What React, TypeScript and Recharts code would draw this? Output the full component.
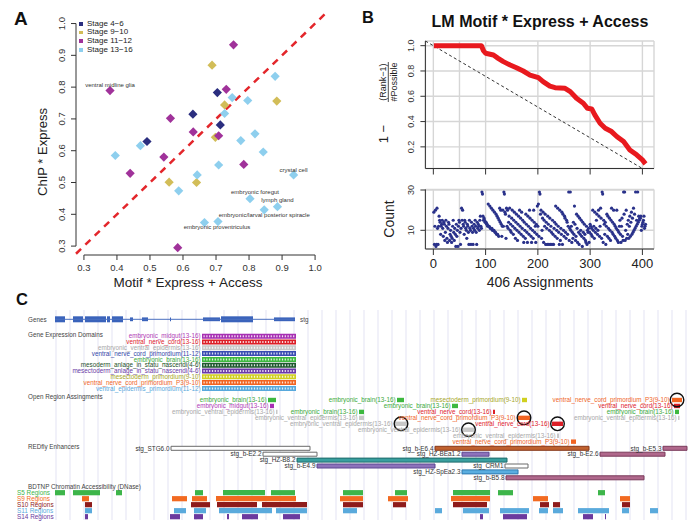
import React from 'react';
import {
  ScatterChart,
  Scatter,
  LineChart,
  Line,
  XAxis,
  YAxis,
  CartesianGrid,
  ReferenceLine,
  ReferenceArea,
  ReferenceDot,
  Legend,
} from 'recharts';

const FONT = '"Liberation Sans", Arial, Helvetica, sans-serif';

// ---------- Panel A: ChIP * Express vs Motif * Express + Access ----------
const STAGE_NAMES = ['Stage 4−6', 'Stage 9−10', 'Stage 11−12', 'Stage 13−16'];
const STAGE_4_6 = [[0.63, 0.715], [0.491, 0.629], [0.704, 0.783], [0.713, 0.681]];
const STAGE_9_10 = [[0.558, 0.501], [0.641, 0.5], [0.688, 0.869], [0.884, 0.756], [0.726, 0.744], [0.698, 0.642]];
const STAGE_11_12 = [
  [0.379, 0.789], [0.562, 0.702], [0.631, 0.659], [0.542, 0.58], [0.44, 0.529],
  [0.584, 0.295], [0.753, 0.933], [0.731, 0.793], [0.708, 0.647], [0.784, 0.557],
];
const STAGE_13_16 = [
  [0.471, 0.616], [0.395, 0.585], [0.643, 0.524], [0.587, 0.474], [0.879, 0.834],
  [0.749, 0.767], [0.796, 0.758], [0.726, 0.717], [0.818, 0.653], [0.775, 0.632],
  [0.843, 0.596], [0.708, 0.555], [0.935, 0.524], [0.803, 0.449], [0.886, 0.424],
  [0.846, 0.414], [0.706, 0.377], [0.665, 0.374],
];
const POINT_LABELS = [
  { name: 'ventral midline glia', x: 0.379, y: 0.789 },
  { name: 'crystal cell', x: 0.935, y: 0.524 },
  { name: 'embryonic foregut', x: 0.803, y: 0.449 },
  { name: 'lymph gland', x: 0.886, y: 0.424 },
  { name: 'embryonic/larval posterior spiracle', x: 0.846, y: 0.414 },
  { name: 'embryonic proventriculus', x: 0.706, y: 0.377 },
];
const A_TICKS = [0.3, 0.4, 0.5, 0.6, 0.7, 0.8, 0.9, 1.0];

// ---------- Panel B: rank curve and counts ----------
const RANK_X = [1, 92, 96, 100, 115, 124, 134, 147, 159, 172, 185, 201, 210, 223, 233, 252, 262, 274, 287, 295, 303, 309, 319, 329, 341, 351, 364, 376, 389, 400, 406];
const RANK_Y = [1.0, 1.0, 0.96, 0.94, 0.926, 0.9, 0.874, 0.847, 0.826, 0.8, 0.768, 0.747, 0.716, 0.68, 0.668, 0.663, 0.637, 0.584, 0.545, 0.505, 0.5, 0.453, 0.387, 0.347, 0.321, 0.282, 0.242, 0.176, 0.137, 0.097, 0.066];
const RANK_TICKS = [0.2, 0.4, 0.6, 0.8, 1.0];
const ASSIGN_TICKS = [0, 100, 200, 300, 400];
const COUNT_TICKS = [10, 20, 30];
const COUNTS = [
  19, 3, 12, 20, 2, 3, 21, 11, 3, 12, 17, 15, 14, 8, 12, 13, 15, 11, 7, 14,
  13, 5, 9, 15, 12, 6, 4, 11, 14, 13, 5, 8, 10, 7, 4, 6, 12, 15, 9, 5,
  11, 8, 2, 13, 7, 10, 2, 12, 15, 14, 9, 3, 11, 21, 15, 20, 13, 12, 8, 15,
  14, 11, 10, 6, 13, 12, 9, 3, 15, 11, 10, 3, 14, 12, 9, 3, 11, 13, 10, 15,
  12, 9, 3, 14, 11, 13, 12, 10, 15, 17, 12, 11, 29, 28, 17, 15, 16, 15, 14, 14,
  14, 13, 13, 12, 23, 12, 12, 22, 11, 11, 21, 11, 10, 20, 10, 10, 19, 9, 9, 18,
  8, 17, 8, 16, 7, 15, 21, 14, 20, 13, 7, 12, 20, 12, 29, 28, 19, 18, 6, 21,
  12, 20, 11, 14, 17, 21, 10, 13, 9, 16, 20, 12, 8, 15, 19, 11, 6, 14, 18, 10,
  5, 13, 17, 9, 20, 12, 16, 8, 19, 11, 15, 7, 4, 14, 10, 6, 18, 13, 9, 4,
  17, 12, 8, 20, 16, 11, 7, 4, 15, 10, 6, 20, 14, 9, 12, 4, 13, 8, 22, 12,
  23, 7, 29, 28, 18, 20, 6, 10, 16, 19, 4, 15, 12, 18, 3, 14, 11, 3, 17, 13,
  3, 10, 16, 3, 12, 9, 3, 15, 8, 3, 11, 14, 7, 22, 13, 10, 6, 21, 12, 9,
  3, 20, 5, 11, 8, 19, 3, 18, 10, 7, 17, 16, 9, 6, 15, 14, 8, 12, 29, 5,
  11, 29, 10, 12, 4, 9, 6, 14, 8, 22, 13, 5, 7, 18, 11, 4, 17, 9, 3, 16,
  8, 10, 15, 7, 2, 14, 9, 6, 13, 8, 5, 4, 12, 3, 10, 9, 11, 4, 9, 13,
  12, 8, 11, 7, 20, 10, 12, 6, 19, 9, 11, 15, 18, 8, 10, 20, 17, 7, 12, 21,
  16, 6, 29, 28, 4, 15, 13, 8, 14, 3, 12, 18, 7, 17, 11, 6, 16, 10, 5, 15,
  21, 9, 14, 8, 20, 13, 7, 12, 6, 11, 20, 5, 10, 4, 9, 12, 15, 8, 4, 12,
  16, 7, 5, 29, 18, 29, 5, 10, 20, 6, 13, 8, 15, 6, 12, 17, 7, 14, 19, 8,
  16, 9, 21, 10, 18, 11, 29, 12, 15, 13, 29, 14, 17, 15, 16, 16, 17, 10, 12, 13,
  14, 15, 17, 11, 12, 13,
];

// ---------- Panel C: stg locus browser (positions in locus units) ----------
const STG_SPAN = [0, 240];
const STG_EXONS = [
  [0, 10, 'cds'], [18, 28, 'cds'], [30, 51, 'cds'], [52, 55, 'cds'], [57, 68, 'cds'],
  [75, 78, 'utr'], [87, 93, 'utr'], [115, 116, 'utr'], [148, 165, 'utr'], [166, 198, 'cds'], [219, 240, 'utr'],
];
const EXPRESSION_SPAN = [147, 241];
const EXPRESSION_DOMAINS = [
  'embryonic_midgut(13-16)',
  'ventral_nerve_cord(13-16)',
  'embryonic_ventral_epidermis(13-16)',
  'ventral_nerve_cord_primordium(11-12)',
  'embryonic_brain(13-16)',
  'mesoderm_anlage_in_statu_nascendi(4-6)',
  'mesectoderm_anlage_in_statu_nascendi(4-6)',
  'mesectoderm_primordium(9-10)',
  'ventral_nerve_cord_primordium_P3(9-10)',
  'ventral_epidermis_primordium(11-12)',
];
const OPEN_REGIONS = [
  { tissue: 'embryonic_brain(13-16)', start: 213, end: 221, row: 0, circled: false },
  { tissue: 'embryonic_midgut(13-16)', start: 215, end: 219, row: 1, circled: false },
  { tissue: 'embryonic_ventral_epidermis(13-16)', start: 221, end: 222.5, row: 2, circled: false },
  { tissue: 'embryonic_brain(13-16)', start: 342, end: 349, row: 0, circled: false },
  { tissue: 'embryonic_brain(13-16)', start: 304, end: 309, row: 2, circled: false },
  { tissue: 'embryonic_ventral_epidermis(13-16)', start: 304, end: 309, row: 3, circled: false },
  { tissue: 'embryonic_ventral_epidermis(13-16)', start: 340, end: 352, row: 4, circled: true },
  { tissue: 'embryonic_brain(13-16)', start: 397, end: 403, row: 1, circled: false },
  { tissue: 'mesectoderm_primordium(9-10)', start: 467, end: 472, row: 0, circled: false },
  { tissue: 'ventral_nerve_cord_primordium_P3(9-10)', start: 617, end: 627, row: 0, circled: true },
  { tissue: 'ventral_nerve_cord(13-16)', start: 619, end: 625, row: 1, circled: false },
  { tissue: 'ventral_nerve_cord(13-16)', start: 438, end: 440, row: 2, circled: false },
  { tissue: 'embryonic_brain(13-16)', start: 620, end: 624, row: 2, circled: false },
  { tissue: 'ventral_nerve_cord_primordium_P3(9-10)', start: 463, end: 475, row: 3, circled: true },
  { tissue: 'embryonic_ventral_epidermis(13-16)', start: 623, end: 624.5, row: 3, circled: false },
  { tissue: 'ventral_nerve_cord(13-16)', start: 497, end: 508, row: 4, circled: true },
  { tissue: 'embryonic_ventral_epidermis(13-16)', start: 408, end: 419, row: 5, circled: true },
  { tissue: 'embryonic_ventral_epidermis(13-16)', start: 502, end: 504, row: 6, circled: false },
  { tissue: 'ventral_nerve_cord_primordium_P3(9-10)', start: 516, end: 521, row: 7, circled: false },
];
const REDFLY = [
  { name: 'stg_STG6.0', start: 116, end: 255, row: 0 },
  { name: 'stg_b-E2.2', start: 208, end: 262, row: 1 },
  { name: 'stg_HZ-B8.2', start: 242, end: 452, row: 2 },
  { name: 'stg_b-E4.9', start: 262, end: 380, row: 3 },
  { name: 'stg_b-E6.4', start: 380, end: 534, row: 0 },
  { name: 'stg_HZ-BEa1.2', start: 407, end: 434, row: 1 },
  { name: 'stg_b-E2.6', start: 545, end: 610, row: 1 },
  { name: 'stg_b-E5.3', start: 608, end: 632, row: 0 },
  { name: 'stg_CRM1', start: 450, end: 473, row: 3 },
  { name: 'stg_HZ-SpEa2.3', start: 407, end: 463, row: 4 },
  { name: 'stg_b-B5.8', start: 451, end: 589, row: 5 },
];
const DNASE_TRACKS = ['S5 Regions', 'S9 Regions', 'S10 Regions', 'S11 Regions', 'S14 Regions'];
const DNASE_S5 = [[0, 10], [18, 45], [61, 67], [140, 148], [168, 210], [216, 240], [288, 308], [340, 352], [398, 435], [443, 458], [543, 550]];
const DNASE_S9 = [[27, 34], [117, 132], [137, 152], [161, 241], [285, 308], [333, 353], [396, 435], [478, 493], [565, 575]];
const DNASE_S10 = [[30, 37], [136, 155], [162, 202], [207, 252], [288, 308], [338, 351], [398, 432], [485, 494], [498, 505], [567, 575]];
const DNASE_S11 = [[30, 37], [119, 131], [139, 151], [164, 217], [221, 252], [288, 302], [380, 387], [408, 434], [445, 474], [484, 493], [498, 508], [523, 554], [567, 574], [595, 603]];
const DNASE_S14 = [[30, 33], [115, 125], [139, 148], [172, 174], [187, 203], [228, 245], [425, 428], [448, 472], [528, 538], [550, 551]];

// ---------- styles ----------
const STAGE_COLORS = ['#2b2e7f', '#d2bd58', '#a0329a', '#8ecfee'];
const TISSUE_COLOR: Record<string, [string, string]> = {
  'embryonic_midgut(13-16)': ['#b03bb5', '#a72fb3'],
  'ventral_nerve_cord(13-16)': ['#e0222b', '#dc1f27'],
  'embryonic_ventral_epidermis(13-16)': ['#a8a8a8', '#c8c8c8'],
  'ventral_nerve_cord_primordium(11-12)': ['#3347a8', '#3a4cb2'],
  'embryonic_brain(13-16)': ['#3aaa3a', '#3db83f'],
  'mesoderm_anlage_in_statu_nascendi(4-6)': ['#1d4f2a', '#1f5a30'],
  'mesectoderm_anlage_in_statu_nascendi(4-6)': ['#6a3aa6', '#6c3aaa'],
  'mesectoderm_primordium(9-10)': ['#a6a61e', '#d0d020'],
  'ventral_nerve_cord_primordium_P3(9-10)': ['#f06628', '#f26421'],
  'ventral_epidermis_primordium(11-12)': ['#5aa9dc', '#58a9dc'],
};
const ENH_STYLE: Record<string, [string, string]> = {
  'stg_STG6.0': ['#ffffff', '#6a6a6a'],
  'stg_b-E2.2': ['#ffffff', '#6a6a6a'],
  'stg_HZ-B8.2': ['#3a9f9f', '#1e6a6a'],
  'stg_b-E4.9': ['#8d72bb', '#5d4690'],
  'stg_b-E6.4': ['#c0612f', '#86391a'],
  'stg_HZ-BEa1.2': ['#8d72bb', '#5d4690'],
  'stg_b-E2.6': ['#b0688c', '#7a3a5a'],
  'stg_b-E5.3': ['#b0688c', '#7a3a5a'],
  'stg_CRM1': ['#ffffff', '#6a6a6a'],
  'stg_HZ-SpEa2.3': ['#5aaee0', '#2f7ab0'],
  'stg_b-B5.8': ['#b0688c', '#7a3a5a'],
};
const DNASE_COLORS = ['#3db54a', '#f26a21', '#8e1b1b', '#5aaadc', '#6b3a9e'];
const LANE = {
  gene: 21.3, exprTop: 38.2, exprStep: 5.8, openTop: 102, openStep: 5.95,
  redTop: 150.3, redStep: 5.9, dnaseTop: 194.7, dnaseStep: 6,
};
const LABEL_OFFSET: Record<string, [number, number]> = {
  'ventral midline glia': [0, -4],
  'crystal cell': [0, -3],
  'embryonic foregut': [5, -5],
  'lymph gland': [0, -4.7],
  'embryonic/larval posterior spiracle': [0, 7],
  'embryonic proventriculus': [-1, 7.5],
};

const diamond = (color: string) => (p: any) => {
  const { cx, cy } = p;
  if (cx == null || cy == null) return <g />;
  const r = 4.6;
  return <polygon points={`${cx},${cy - r} ${cx + r},${cy} ${cx},${cy + r} ${cx - r},${cy}`} fill={color} />;
};

const pointLabel = (p: any) => {
  const d = p.payload;
  const [dx, dy] = LABEL_OFFSET[d.name] || [0, 0];
  return (
    <text x={p.cx + dx} y={p.cy + dy} textAnchor="middle" fontSize={6} fill="#333" fontFamily={FONT}>
      {d.name}
    </text>
  );
};

const RotTick = ({ x, y, payload, fs, digits }: any) => {
  const tx = x - 4.2;
  return (
    <text x={tx} y={y} transform={`rotate(-90 ${tx} ${y})`} textAnchor="middle" fontSize={fs} fill="#333" fontFamily={FONT}>
      {digits ? Number(payload.value).toFixed(digits) : payload.value}
    </text>
  );
};

const rotText = (cx: number, cy: number, fs: number, txt: string, key?: string) => {
  const tx = cx + 0.36 * fs;
  return (
    <text key={key} x={tx} y={cy} transform={`rotate(-90 ${tx} ${cy})`} textAnchor="middle" fontSize={fs} fill="#222" fontFamily={FONT}>
      {txt}
    </text>
  );
};

function PanelA() {
  const series = [STAGE_4_6, STAGE_9_10, STAGE_11_12, STAGE_13_16];
  return (
    <ScatterChart width={350} height={290} margin={{ top: 14, right: 25, bottom: 0, left: 0 }}>
      <XAxis
        type="number" dataKey="x" domain={[0.276, 1.03]} allowDataOverflow ticks={A_TICKS}
        tickFormatter={(v: number) => v.toFixed(1)} axisLine={false} tickLine={{ stroke: '#333' }}
        tickSize={5} tickMargin={4} height={35}
        tick={{ fontSize: 9.5, fill: '#333', fontFamily: FONT }}
        label={() => (
          <text x={188} y={287} textAnchor="middle" fontSize={13.5} fill="#222" fontFamily={FONT}>
            Motif * Express + Access
          </text>
        )}
      />
      <YAxis
        type="number" dataKey="y" domain={[0.272, 1.03]} allowDataOverflow ticks={A_TICKS}
        width={76} axisLine={false} tickLine={{ stroke: '#333' }} tickSize={5}
        tick={(p: any) => <RotTick {...p} fs={9.5} digits={1} />}
        label={() => rotText(42.5, 152, 13, 'ChIP * Express')}
      />
      <ReferenceLine segment={[{ x: 0.276, y: 0.3 }, { x: 0.276, y: 1.0 }]} stroke="#333" ifOverflow="visible" />
      <ReferenceLine segment={[{ x: 0.3, y: 0.272 }, { x: 1.0, y: 0.272 }]} stroke="#333" ifOverflow="visible" />
      <ReferenceLine
        segment={[{ x: 0.276, y: 0.276 }, { x: 1.03, y: 1.03 }]}
        stroke="#e3262b" strokeWidth={2.5} strokeDasharray="7 6" ifOverflow="visible"
      />
      {series.map((s, i) => (
        <Scatter
          key={STAGE_NAMES[i]} name={STAGE_NAMES[i]} data={s.map(([x, y]) => ({ x, y }))}
          fill={STAGE_COLORS[i]} shape={diamond(STAGE_COLORS[i])} isAnimationActive={false}
        />
      ))}
      <Scatter data={POINT_LABELS} shape={pointLabel} isAnimationActive={false} legendType="none" />
      <Legend
        layout="horizontal" verticalAlign="middle" align="center"
        wrapperStyle={{ left: 79, top: 19.5, width: 90, height: 36 }}
        content={() => (
          <div style={{ fontFamily: FONT, fontSize: 8, color: '#222', lineHeight: '8.7px' }}>
            {STAGE_NAMES.map((s, i) => (
              <div key={s} style={{ display: 'flex', alignItems: 'center', height: 8.7 }}>
                <span style={{ display: 'inline-block', width: 3.5, height: 3.5, background: STAGE_COLORS[i], marginRight: 4.5 }} />
                {s}
              </div>
            ))}
          </div>
        )}
      />
    </ScatterChart>
  );
}

function PanelBRank() {
  const data = RANK_X.map((x, i) => ({ x, v: RANK_Y[i] }));
  return (
    <LineChart width={347} height={180} data={data} margin={{ top: 41, right: 43, bottom: 0, left: 0 }}>
      <XAxis xAxisId="grid" type="number" dataKey="x" domain={[-15.2, 422.2]} allowDataOverflow hide ticks={[0, 50, 100, 150, 200, 250, 300, 350, 400]} />
      <CartesianGrid xAxisId="grid" stroke="#d6d6d6" strokeWidth={1.4} />
      <XAxis
        type="number" dataKey="x" domain={[-15.2, 422.2]} allowDataOverflow ticks={ASSIGN_TICKS}
        height={11.5} tickSize={6} axisLine={{ stroke: '#333' }} tickLine={{ stroke: '#333' }}
        tick={() => <g />}
      />
      <YAxis
        type="number" domain={[0.029, 1.037]} allowDataOverflow ticks={RANK_TICKS} width={75.4}
        axisLine={{ stroke: '#333' }} tickLine={{ stroke: '#333' }} tickSize={5}
        tick={(p: any) => <RotTick {...p} fs={9} digits={1} />}
        label={() => (
          <g>
            {rotText(33, 134, 13, '1 −')}
            {rotText(32.5, 82, 9, '(Rank−1)')}
            <line x1={38.3} y1={62} x2={38.3} y2={102} stroke="#222" strokeWidth={0.8} />
            {rotText(43.5, 82, 9, '#Possible')}
          </g>
        )}
      />
      <ReferenceLine
        segment={[{ x: -15.2, y: 1.037 }, { x: 400, y: 0.029 }]}
        stroke="#333" strokeWidth={1} strokeDasharray="3 2.5"
      />
      <Line type="linear" dataKey="v" stroke="#e8191e" strokeWidth={5} dot={false} strokeLinejoin="round" isAnimationActive={false} />
    </LineChart>
  );
}

function PanelBCount() {
  const data = COUNTS.map((c, i) => ({ x: i + 1, y: c }));
  return (
    <ScatterChart width={347} height={125} margin={{ top: 14.4, right: 43, bottom: 0, left: 0 }}>
      <XAxis xAxisId="grid" type="number" dataKey="x" domain={[-15.2, 422.2]} allowDataOverflow hide ticks={[0, 50, 100, 150, 200, 250, 300, 350, 400]} />
      <CartesianGrid xAxisId="grid" stroke="#d6d6d6" strokeWidth={1.4} />
      <XAxis
        type="number" dataKey="x" domain={[-15.2, 422.2]} allowDataOverflow ticks={ASSIGN_TICKS}
        height={51} tickSize={6} tickMargin={4} axisLine={{ stroke: '#333' }} tickLine={{ stroke: '#333' }}
        tick={{ fontSize: 13, fill: '#222', fontFamily: FONT }}
        label={() => (
          <text x={190} y={111.5} textAnchor="middle" fontSize={14} fill="#222" fontFamily={FONT}>
            406 Assignments
          </text>
        )}
      />
      <YAxis
        type="number" dataKey="y" domain={[0.72, 30.3]} allowDataOverflow ticks={COUNT_TICKS} width={75.4}
        axisLine={{ stroke: '#333' }} tickLine={{ stroke: '#333' }} tickSize={5}
        tick={(p: any) => <RotTick {...p} fs={9} />}
        label={() => rotText(39, 44, 14, 'Count')}
      />
      <Scatter
        data={data} isAnimationActive={false}
        shape={(p: any) => <circle cx={p.cx} cy={p.cy} r={1.6} fill="#29318a" />}
      />
    </ScatterChart>
  );
}

const cText = (p: any) => {
  const d = p.payload;
  return (
    <text x={p.cx} y={p.cy} dy="0.35em" textAnchor={d.anchor} fontSize={d.size} fill={d.color} fontFamily={FONT}>
      {d.text}
    </text>
  );
};

function PanelC() {
  const gridX = Array.from({ length: 46 }, (_, k) => 1 + 14 * k);
  const texts: any[] = [];
  const titles: [string, number][] = [
    ['Genes', LANE.gene],
    ['Gene Expression Domains', 37],
    ['Open Region Assingments', 98.7],
    ['REDfly Enhancers', 148.7],
    ['BDTNP Chromatin Accessibility (DNase)', 188.7],
  ];
  titles.forEach(([t, y]) => texts.push({ x: -27, y, text: t, color: '#444', anchor: 'start', size: 6.3 }));
  texts.push({ x: STG_SPAN[1] + 5, y: LANE.gene, text: 'stg', color: '#444', anchor: 'start', size: 6.3 });
  EXPRESSION_DOMAINS.forEach((t, i) =>
    texts.push({ x: EXPRESSION_SPAN[0] - 1.5, y: LANE.exprTop + i * LANE.exprStep, text: t, color: TISSUE_COLOR[t][0], anchor: 'end', size: 6.3 })
  );
  OPEN_REGIONS.forEach((r) =>
    texts.push({ x: r.start - (r.circled ? 2.5 : 1.5), y: LANE.openTop + r.row * LANE.openStep, text: r.tissue, color: TISSUE_COLOR[r.tissue][0], anchor: 'end', size: 6.3 })
  );
  REDFLY.forEach((e) =>
    texts.push({ x: e.start - 1.5, y: LANE.redTop + e.row * LANE.redStep, text: e.name, color: '#333', anchor: 'end', size: 6.4 })
  );
  DNASE_TRACKS.forEach((t, i) =>
    texts.push({ x: -38, y: LANE.dnaseTop + i * LANE.dnaseStep, text: t, color: DNASE_COLORS[i], anchor: 'start', size: 6.4 })
  );
  const dnase = [DNASE_S5, DNASE_S9, DNASE_S10, DNASE_S11, DNASE_S14];

  return (
    <ScatterChart width={697} height={230} margin={{ top: 0, right: 0, bottom: 0, left: 0 }}>
      <XAxis type="number" dataKey="x" domain={[-55, 642]} allowDataOverflow hide />
      <YAxis type="number" dataKey="y" domain={[0, 230]} reversed allowDataOverflow hide />
      {gridX.map((x) => (
        <ReferenceLine key={`g${x}`} segment={[{ x, y: 12 }, { x, y: 222 }]} stroke="#e3e3f3" strokeWidth={1} zIndex={-50} />
      ))}
      <ReferenceLine segment={[{ x: STG_SPAN[0], y: LANE.gene }, { x: STG_SPAN[1], y: LANE.gene }]} stroke="#4a70c0" strokeWidth={1} />
      {STG_EXONS.map(([a, b, kind]: any, i) => {
        const h = kind === 'cds' ? 3 : 1.9;
        return (
          <ReferenceArea key={`ex${i}`} x1={a} x2={b} y1={LANE.gene - h} y2={LANE.gene + h} fill="#3a63bb" fillOpacity={1} stroke="none" />
        );
      })}
      {EXPRESSION_DOMAINS.map((t, i) => {
        const y = LANE.exprTop + i * LANE.exprStep;
        return (
          <ReferenceArea key={`ed${i}`} x1={EXPRESSION_SPAN[0]} x2={EXPRESSION_SPAN[1]} y1={y - 2.5} y2={y + 2.5} fill={TISSUE_COLOR[t][1]} fillOpacity={1} stroke="none" />
        );
      })}
      {EXPRESSION_DOMAINS.map((t, i) => {
        const y = LANE.exprTop + i * LANE.exprStep;
        return (
          <ReferenceLine key={`ec${i}`} segment={[{ x: EXPRESSION_SPAN[0] + 1.5, y }, { x: EXPRESSION_SPAN[1] - 1.5, y }]} stroke="#ffffff" strokeOpacity={0.85} strokeWidth={2} strokeDasharray="1.2 1.6" />
        );
      })}
      {OPEN_REGIONS.map((r, i) => {
        const y = LANE.openTop + r.row * LANE.openStep;
        return (
          <ReferenceArea key={`or${i}`} x1={r.start} x2={r.end} y1={y - 2.2} y2={y + 2.2} fill={TISSUE_COLOR[r.tissue][1]} fillOpacity={1} stroke="none" />
        );
      })}
      {REDFLY.map((e, i) => {
        const y = LANE.redTop + e.row * LANE.redStep;
        const [fill, stroke] = ENH_STYLE[e.name];
        return (
          <ReferenceArea key={`rf${i}`} x1={e.start} x2={e.end} y1={y - 2} y2={y + 2} fill={fill} fillOpacity={1} stroke={stroke} strokeWidth={1} />
        );
      })}
      {dnase.map((track, t) =>
        track.map(([a, b], i) => {
          const y = LANE.dnaseTop + t * LANE.dnaseStep;
          return (
            <ReferenceArea key={`dn${t}-${i}`} x1={a} x2={b} y1={y - 2.6} y2={y + 2.6} fill={DNASE_COLORS[t]} fillOpacity={1} stroke="none" />
          );
        })
      )}
      {OPEN_REGIONS.filter((r) => r.circled).map((r, i) => (
        <ReferenceDot
          key={`ci${i}`} x={(r.start + r.end) / 2} y={LANE.openTop + r.row * LANE.openStep} r={6.8}
          fill="none" stroke="#111" strokeWidth={1.4}
        />
      ))}
      <Scatter data={texts} shape={cText} isAnimationActive={false} />
    </ScatterChart>
  );
}

export default function App() {
  return (
    <div style={{ position: 'absolute', left: 0, top: 0, width: 697, height: 528, background: '#fff', overflow: 'hidden', fontFamily: FONT }}>
      <div style={{ position: 'absolute', left: 0, top: 0 }}>
        <PanelA />
      </div>
      <div style={{ position: 'absolute', left: 350, top: 0 }}>
        <PanelBRank />
      </div>
      <div style={{ position: 'absolute', left: 350, top: 175 }}>
        <PanelBCount />
      </div>
      <div style={{ position: 'absolute', left: 0, top: 298 }}>
        <PanelC />
      </div>
      <svg width={697} height={528} style={{ position: 'absolute', left: 0, top: 0, pointerEvents: 'none' }}>
        <text x={14} y={25} fontSize={19} fontWeight="bold" fill="#111" fontFamily={FONT}>A</text>
        <text x={362} y={23.3} fontSize={16.5} fontWeight="bold" fill="#111" fontFamily={FONT}>B</text>
        <text x={16} y={305} fontSize={16.5} fontWeight="bold" fill="#111" fontFamily={FONT}>C</text>
        <text x={540} y={26.5} textAnchor="middle" fontSize={16} fontWeight="bold" fill="#111" fontFamily={FONT}>
          LM Motif * Express + Access
        </text>
      </svg>
    </div>
  );
}
